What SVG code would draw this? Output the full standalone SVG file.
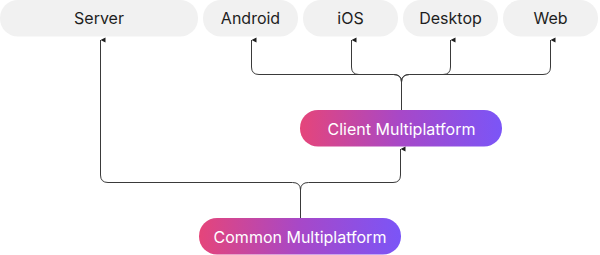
<svg xmlns="http://www.w3.org/2000/svg" width="600" height="255" viewBox="0 0 600 255">
<style>
.pill{fill:#f1f1f1}
.lbl{font-family:Inter,"Liberation Sans",sans-serif;font-size:16px;fill:#1e1e1e;text-anchor:middle;dominant-baseline:central}
.wl{font-family:Inter,"Liberation Sans",sans-serif;font-size:16px;fill:#ffffff;text-anchor:middle;dominant-baseline:central}
.ln{fill:none;stroke:#3a3a3a;stroke-width:1}
</style>
<defs>
<linearGradient id="g" x1="0" y1="0" x2="1" y2="0">
<stop offset="0" stop-color="#e5457a"/>
<stop offset="0.5" stop-color="#a748c8"/>
<stop offset="1" stop-color="#7b55f7"/>
</linearGradient>
<marker id="ah" viewBox="0 0 6 6" refX="3" refY="0" markerWidth="6" markerHeight="6" orient="auto-start-reverse" markerUnits="userSpaceOnUse">
<path d="M0.5,5 L3,0 L5.5,5 Z" fill="#1e1e1e"/>
</marker>
</defs>
<g id="server"><rect class="pill" x="0" y="0" width="198" height="36.5" rx="18"/><text class="lbl" x="99" y="18">Server</text></g>
<g id="android"><rect class="pill" x="203" y="0" width="95" height="36.5" rx="18"/><text class="lbl" x="250.5" y="18">Android</text></g>
<g id="ios"><rect class="pill" x="303" y="0" width="95" height="36.5" rx="18"/><text class="lbl" x="350.5" y="18">iOS</text></g>
<g id="desktop"><rect class="pill" x="403" y="0" width="95" height="36.5" rx="18"/><text class="lbl" x="450.5" y="18">Desktop</text></g>
<g id="web"><rect class="pill" x="503" y="0" width="95" height="36.5" rx="18"/><text class="lbl" x="550.5" y="18">Web</text></g>
<g id="client"><rect x="300" y="110" width="202" height="36.5" rx="18" fill="url(#g)"/><text class="wl" x="401.5" y="128.5">Client Multiplatform</text></g>
<g id="common"><rect x="199" y="218" width="202" height="36.5" rx="18" fill="url(#g)"/><text class="wl" x="300" y="236.5">Common Multiplatform</text></g>
<g id="connectors">
<path class="ln" d="M401.5,110 V82 Q401.5,74.5 393.5,74.5 H259 Q251.5,74.5 251.5,67 V40" marker-end="url(#ah)"/>
<path class="ln" d="M401.5,82 Q401.5,74.5 393.5,74.5 H359 Q351.5,74.5 351.5,67 V40" marker-end="url(#ah)"/>
<path class="ln" d="M401.5,82 Q401.5,74.5 409.5,74.5 H443 Q450.5,74.5 450.5,67 V40" marker-end="url(#ah)"/>
<path class="ln" d="M401.5,82 Q401.5,74.5 409.5,74.5 H543 Q550.5,74.5 550.5,67 V40" marker-end="url(#ah)"/>
<path class="ln" d="M300.5,218 V190 Q300.5,182.5 292.5,182.5 H108 Q100.5,182.5 100.5,175 V40" marker-end="url(#ah)"/>
<path class="ln" d="M300.5,190 Q300.5,182.5 308.5,182.5 H393 Q400.5,182.5 400.5,175 V149" marker-end="url(#ah)"/>
</g>
</svg>
